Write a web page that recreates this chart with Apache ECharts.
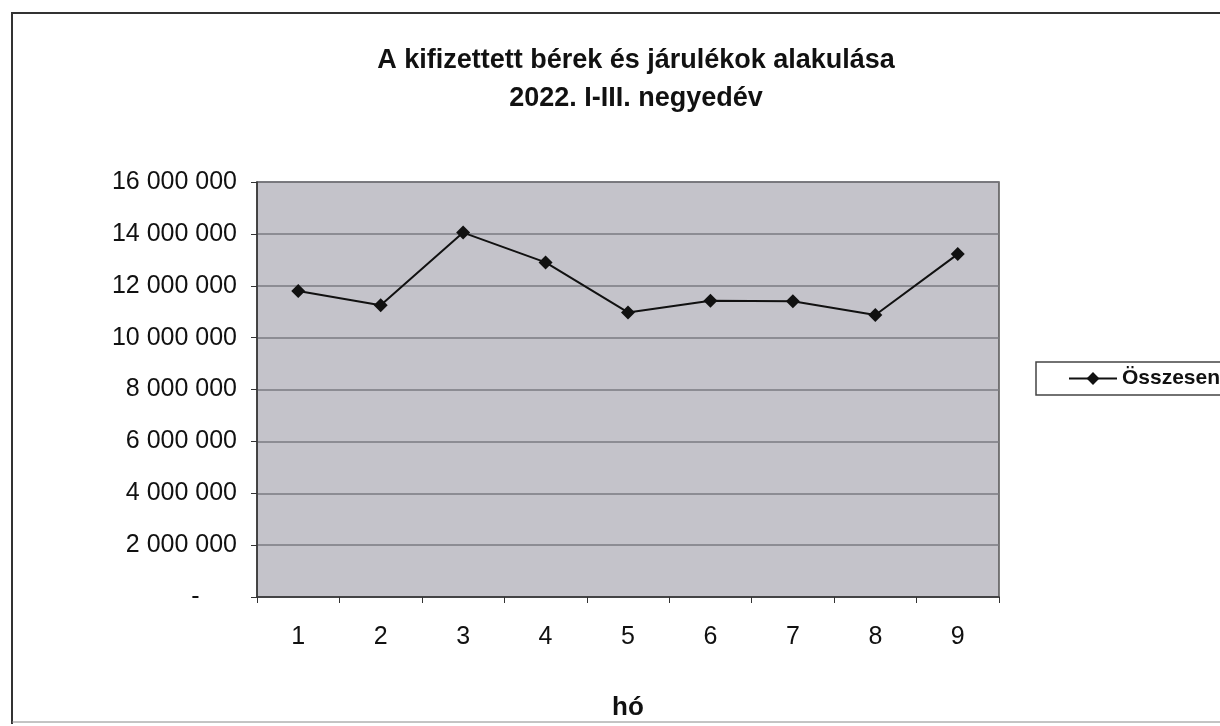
<!DOCTYPE html>
<html>
<head>
<meta charset="utf-8">
<script src="https://cdn.jsdelivr.net/npm/echarts@6/dist/echarts.min.js"></script>
<style>
html,body{margin:0;padding:0;background:#fff;}
#c{width:1220px;height:726px;}
</style>
</head>
<body>
<div id="c"></div>
<script>
const titleLines = ['A kifizettett bérek és járulékok alakulása', '2022. I-III. negyedév'];
const months = ['1','2','3','4','5','6','7','8','9'];
const osszesen = [11800000, 11250000, 14050000, 12900000, 10970000, 11420000, 11400000, 10870000, 13220000];
const seriesName = 'Összesen';
const xAxisName = 'hó';
const yMin = 0, yMax = 16000000, yStep = 2000000;

function fmt(v){
  if (v === 0) return '-\u2002\u2002\u2002';
  return String(v).replace(/\B(?=(\d{3})+(?!\d))/g, ' ');
}

const FF = 'Liberation Sans, Arial, sans-serif';
const chart = echarts.init(document.getElementById('c'));
chart.setOption({
  backgroundColor: '#ffffff',
  animation: false,
  title: {
    text: titleLines.join('\n'),
    left: 631, textAlign: 'center', top: 37,
    textStyle: { fontFamily: FF, fontWeight: 'bold', fontSize: 27, lineHeight: 38, color: '#111' }
  },
  legend: {
    data: [seriesName],
    left: 1036, top: 362,
    orient: 'vertical',
    borderColor: '#444', borderWidth: 1.5,
    padding: [6, 10, 6, 32],
    itemWidth: 48, itemHeight: 16,
    textStyle: { fontFamily: FF, fontWeight: 'bold', fontSize: 21, color: '#111' }
  },
  grid: { left: 257, right: 221, top: 182, bottom: 125, show: true, backgroundColor: '#c4c3ca', borderColor: '#555', borderWidth: 1.5 },
  xAxis: {
    type: 'category', data: months, boundaryGap: true,
    name: xAxisName, nameLocation: 'middle', nameGap: 98,
    nameTextStyle: { fontFamily: FF, fontWeight: 'bold', fontSize: 26, color: '#111' },
    axisLine: { lineStyle: { color: '#333', width: 1.5 } },
    axisTick: { show: true, length: 6, inside: false, lineStyle: { color: '#333' } },
    axisLabel: { margin: 28, fontFamily: FF, fontSize: 25, color: '#111' }
  },
  yAxis: {
    type: 'value', min: yMin, max: yMax, interval: yStep,
    axisLine: { show: true, lineStyle: { color: '#333', width: 1.5 } },
    axisTick: { show: true, length: 6, lineStyle: { color: '#333' } },
    splitLine: { show: true, lineStyle: { color: '#7a7a80', width: 1.5 } },
    axisLabel: { margin: 20, formatter: fmt, fontFamily: FF, fontSize: 25, color: '#111' }
  },
  series: [{
    name: seriesName, type: 'line', data: osszesen,
    symbol: 'diamond', symbolSize: 14,
    lineStyle: { color: '#111', width: 2 },
    itemStyle: { color: '#111' }
  }],
  graphic: [
    { type: 'polyline', shape: { points: [[12, 724], [12, 13], [1220, 13]] }, style: { stroke: '#333', lineWidth: 2, fill: null } },
    { type: 'line', shape: { x1: 12, y1: 722, x2: 1220, y2: 722 }, style: { stroke: '#888', lineWidth: 1 } }
  ]
});
</script>
</body>
</html>
